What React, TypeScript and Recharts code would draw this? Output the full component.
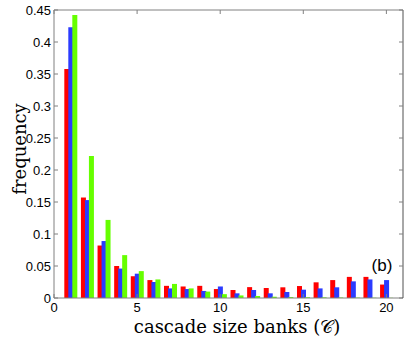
import { BarChart, Bar, XAxis, YAxis, Label } from "recharts"

const sizes = [1, 2, 3, 4, 5, 6, 7, 8, 9, 10, 11, 12, 13, 14, 15, 16, 17, 18, 19, 20]
const red = [0.358, 0.157, 0.082, 0.05, 0.034, 0.028, 0.019, 0.018, 0.019, 0.014, 0.0125, 0.017, 0.0156, 0.0167, 0.0187, 0.0245, 0.028, 0.033, 0.033, 0.021]
const blue = [0.423, 0.153, 0.089, 0.046, 0.038, 0.025, 0.015, 0.014, 0.011, 0.018, 0.0073, 0.0125, 0.0073, 0.0094, 0.013, 0.015, 0.0167, 0.026, 0.029, 0.028]
const green = [0.442, 0.222, 0.122, 0.067, 0.042, 0.029, 0.022, 0.015, 0.01, 0.006, 0.004, 0.003, 0.002, 0.0015, 0.0012, 0.001, 0.0008, 0.0006, 0.0004, 0.0003]
const xTicks = [0, 5, 10, 15, 20]
const yTicks = [0, 0.05, 0.1, 0.15, 0.2, 0.25, 0.3, 0.35, 0.4, 0.45]
const xMax = 21
const yMax = 0.45

const data = sizes.map((s, i) => ({ x: s, red: red[i], blue: blue[i], green: green[i] }))

const axisColor = "#808080"
const tickFamily = "Liberation Sans, Arial, sans-serif"

// plot box, from the margins and axis sizes below
const W = 407
const H = 338
const margin = { top: 10, right: 4, bottom: 0, left: 0 }
const yAxisW = 54
const xAxisH = 40
const plotL = margin.left + yAxisW
const plotT = margin.top
const plotR = W - margin.right
const plotB = H - margin.bottom - xAxisH

// x tick: label below, plus the mirrored tick on the top border (and the top border itself)
const XTick = (props: any) => {
  const { x, y, payload } = props
  return (
    <g>
      <text x={x} y={y} dy="0.71em" textAnchor="middle" fontFamily={tickFamily} fontSize={13} fill="#000">
        {payload.value}
      </text>
      <line x1={x} x2={x} y1={plotT} y2={plotT + 4} stroke={axisColor} />
      {payload.value === 0 && <line x1={plotL} x2={plotR} y1={plotT} y2={plotT} stroke={axisColor} />}
    </g>
  )
}

// y tick: label on the left, plus the mirrored tick on the right border (and the right border itself)
const YTick = (props: any) => {
  const { x, y, payload } = props
  return (
    <g>
      <text x={x} y={y} dy="0.355em" textAnchor="end" fontFamily={tickFamily} fontSize={13} fill="#000">
        {payload.value}
      </text>
      <line x1={plotR - 4} x2={plotR} y1={y} y2={y} stroke={axisColor} />
      {payload.value === 0 && <line x1={plotR} x2={plotR} y1={plotT} y2={plotB} stroke="#505050" />}
    </g>
  )
}

export default function App() {
  return (
    <div style={{ position: "absolute", left: 0, top: 0 }}>
      <BarChart width={W} height={H} data={data} margin={margin} barSize={5} barGap={-1}>
        <XAxis
          dataKey="x"
          type="number"
          domain={[0, xMax]}
          ticks={xTicks}
          height={xAxisH}
          stroke={axisColor}
          tickSize={-4}
          tickMargin={9}
          tick={<XTick />}
        >
          <Label
            content={() => (
              <text x={237} y={333} textAnchor="middle" fontFamily="DejaVu Serif, serif" fontSize={18} fill="#000">
                cascade size banks (𝒞)
              </text>
            )}
          />
        </XAxis>
        <YAxis
          type="number"
          domain={[0, yMax]}
          ticks={yTicks}
          width={yAxisW}
          stroke={axisColor}
          tickSize={-4}
          tickMargin={7}
          tick={<YTick />}
        >
          <Label
            content={() => (
              <text
                x={19}
                y={149}
                transform="rotate(-90 19 149)"
                textAnchor="middle"
                dominantBaseline="central"
                fontFamily="DejaVu Serif, serif"
                fontSize={18}
                fill="#000"
              >
                frequency
              </text>
            )}
          />
          <Label
            content={() => (
              <text x={382} y={271} textAnchor="middle" fontFamily={tickFamily} fontSize={17} fill="#000">
                (b)
              </text>
            )}
          />
        </YAxis>
        <Bar dataKey="red" fill="#ff0000" isAnimationActive={false} />
        <Bar dataKey="blue" fill="#2b3bff" isAnimationActive={false} />
        <Bar dataKey="green" fill="#66ff00" isAnimationActive={false} />
      </BarChart>
    </div>
  )
}
